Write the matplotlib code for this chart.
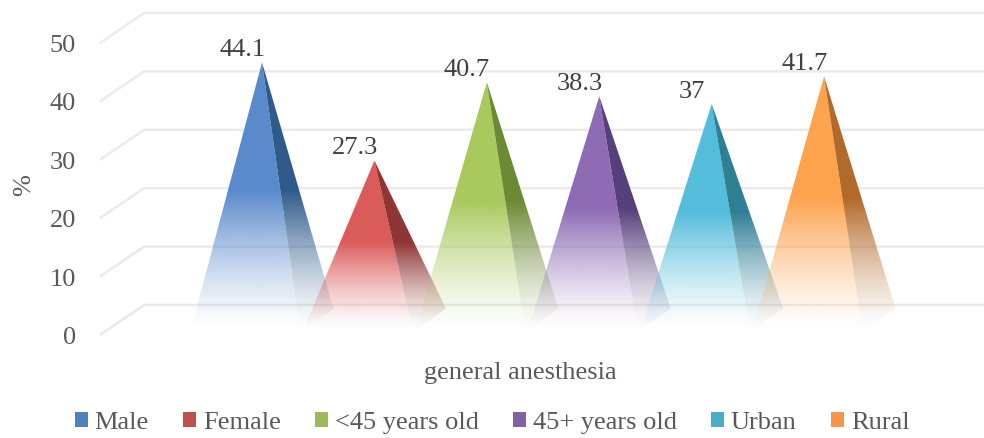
import numpy as np
import matplotlib.pyplot as plt
from matplotlib.patches import Polygon, Patch
from matplotlib.colors import to_rgb

categories = ["Male", "Female", "<45 years old", "45+ years old", "Urban", "Rural"]
values = [44.1, 27.3, 40.7, 38.3, 37, 41.7]
front_colors = ["#5a8acb", "#da5c5a", "#a9c95e", "#8e6bb5", "#55bddc", "#fda34e"]
side_colors = ["#2f5b8c", "#8f3634", "#6c8a35", "#573f7b", "#2f7f95", "#b26a2b"]
legend_colors = ["#4f81bd", "#c0504d", "#9bbb59", "#8064a2", "#4bacc6", "#f79646"]
yticks = [0, 10, 20, 30, 40, 50]
xlabel = "general anesthesia"
ylabel = "%"

TEXT = "#595959"
GRID = "#ebebeb"
FS = 19

# oblique projection: depth d runs from -1 (front) to 1 (back)
SX = 0.196    # x shift (category units) per unit of depth
SY = 2.57     # y shift (value units) per unit of depth
HALF_W = 0.49
HALF_D = 0.75
WALL_X = -1.245


def proj(x, d, v):
    return x + d * SX, v + d * SY


def gradient_face(ax, pts, color, base, height, z):
    poly = Polygon(pts, closed=True, facecolor="none", edgecolor="none")
    ax.add_patch(poly)
    xs, ys = zip(*pts)
    y0, y1 = min(ys), max(ys)
    yy = np.linspace(y0, y1, 300)
    t = np.clip((yy - base) / (0.52 * height), 0, 1) ** 1.35
    img = np.zeros((300, 2, 4))
    img[..., :3] = to_rgb(color)
    img[..., 3] = t[:, None]
    im = ax.imshow(img, extent=(min(xs), max(xs), y0, y1), origin="lower",
                   aspect="auto", interpolation="bilinear", zorder=z)
    im.set_clip_path(poly)


plt.rcParams["font.family"] = ["Liberation Serif", "DejaVu Serif"]
fig = plt.figure(figsize=(9.84, 4.38), dpi=100)
ax = fig.add_axes([0, 0, 1, 1])
ax.axis("off")

# back wall and side wall grid
xmax = 6.423
for t in yticks:
    fx, fy = proj(WALL_X, -1, t)
    bx, by = proj(WALL_X, 1, t)
    ax.plot([fx, bx, xmax], [fy, by, by], color=GRID, lw=1.8, zorder=1,
            solid_capstyle="butt")
    ax.text(-1.655, fy - 0.5, str(t), ha="right", va="center", fontsize=FS,
            color=TEXT)

base = -HALF_D * SY
for i, (v, fc, sc) in enumerate(zip(values, front_colors, side_colors)):
    apex = proj(i, 0, v)
    fl = proj(i - HALF_W, -HALF_D, 0)
    fr = proj(i + HALF_W, -HALF_D, 0)
    br = proj(i + HALF_W, HALF_D, 0)
    h = v - base
    gradient_face(ax, [fl, fr, apex], fc, base, h, 2 + i)
    gradient_face(ax, [fr, br, apex], sc, base, h, 2 + i)
    # value label sits over the front edge of the pyramid top
    front_x = proj(i, -0.9, v)[0]
    ax.annotate(f"{v:g}", (front_x, v), xytext=(0, 1), textcoords="offset points",
                ha="center", va="bottom", fontsize=FS, color="#404040", zorder=10)

ax.set_xlim(-2.331, xmax)
ax.set_ylim(-20.21, 54.79)

fig.text(24 / 984, 1 - 185 / 438, ylabel, rotation=90, ha="center",
         va="center", fontsize=FS, color=TEXT)
fig.text(520 / 984, 1 - 373 / 438, xlabel, ha="center", va="center",
         fontsize=FS, color=TEXT)

handles = [Patch(facecolor=c, edgecolor="none", label=n)
           for n, c in zip(categories, legend_colors)]
fig.legend(handles=handles, loc="center", bbox_to_anchor=(492 / 984, 1 - 423 / 438),
           ncol=6, frameon=False, fontsize=FS, labelcolor=TEXT,
           handlelength=0.5, handleheight=0.5, handletextpad=0.25,
           columnspacing=1.3, borderaxespad=0)

fig.savefig("out.png", dpi=100, facecolor="white")
